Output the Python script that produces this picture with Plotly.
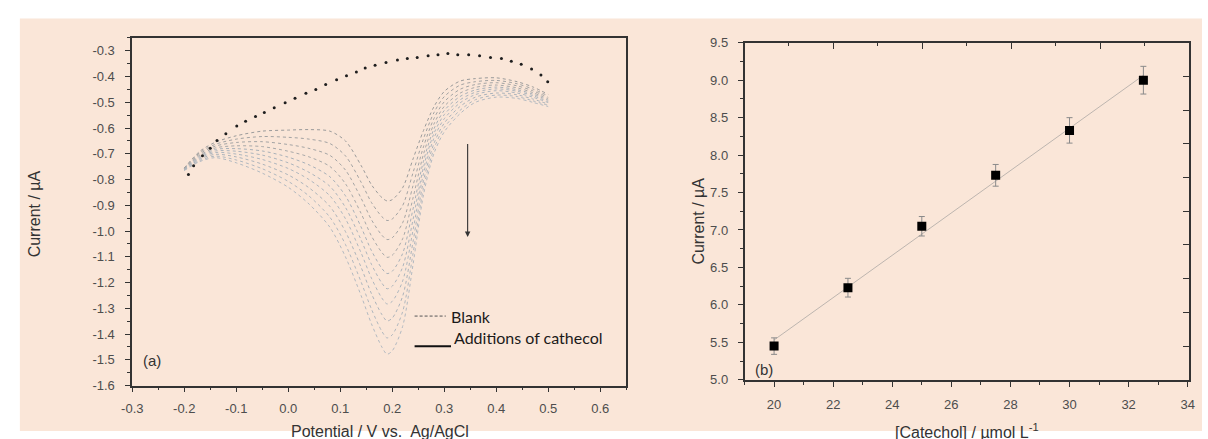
import numpy as np
import plotly.graph_objects as go

W, H = 1208, 439

# ---------------- Panel (a): voltammograms ----------------
potential = [-0.20, -0.17, -0.14, -0.10, -0.05, 0.00, 0.04, 0.08, 0.11, 0.14, 0.16, 0.18, 0.19,
             0.20, 0.22, 0.24, 0.26, 0.28, 0.30, 0.33, 0.36, 0.40, 0.44, 0.47, 0.50]

add_1 = [-0.755, -0.690, -0.655, -0.630, -0.612, -0.608, -0.606, -0.612, -0.650, -0.745, -0.820, -0.870, -0.883,
         -0.878, -0.832, -0.720, -0.610, -0.518, -0.458, -0.418, -0.408, -0.405, -0.420, -0.440, -0.469]
add_2 = [-0.756, -0.695, -0.663, -0.643, -0.633, -0.636, -0.643, -0.660, -0.708, -0.810, -0.889, -0.944, -0.959,
         -0.953, -0.901, -0.773, -0.642, -0.541, -0.478, -0.434, -0.420, -0.415, -0.428, -0.448, -0.475]
add_3 = [-0.758, -0.700, -0.670, -0.656, -0.653, -0.664, -0.679, -0.706, -0.763, -0.872, -0.956, -1.016, -1.033,
         -1.026, -0.968, -0.823, -0.673, -0.564, -0.498, -0.450, -0.431, -0.424, -0.436, -0.455, -0.481]
add_4 = [-0.759, -0.705, -0.677, -0.669, -0.672, -0.690, -0.712, -0.749, -0.816, -0.931, -1.019, -1.083, -1.102,
         -1.094, -1.030, -0.871, -0.702, -0.585, -0.516, -0.465, -0.442, -0.433, -0.444, -0.462, -0.487]
add_5 = [-0.760, -0.709, -0.683, -0.680, -0.689, -0.713, -0.743, -0.789, -0.863, -0.984, -1.076, -1.145, -1.165,
         -1.156, -1.087, -0.914, -0.729, -0.604, -0.532, -0.478, -0.452, -0.441, -0.451, -0.468, -0.492]
add_6 = [-0.761, -0.713, -0.689, -0.690, -0.705, -0.735, -0.772, -0.826, -0.908, -1.034, -1.129, -1.202, -1.224,
         -1.214, -1.140, -0.955, -0.753, -0.622, -0.548, -0.491, -0.461, -0.448, -0.457, -0.474, -0.497]
add_7 = [-0.762, -0.717, -0.695, -0.701, -0.722, -0.757, -0.800, -0.863, -0.952, -1.084, -1.183, -1.260, -1.283,
         -1.273, -1.194, -0.996, -0.778, -0.640, -0.564, -0.503, -0.470, -0.455, -0.464, -0.480, -0.501]
add_8 = [-0.763, -0.721, -0.702, -0.712, -0.740, -0.782, -0.832, -0.904, -1.002, -1.140, -1.243, -1.324, -1.349,
         -1.338, -1.253, -1.041, -0.806, -0.661, -0.581, -0.517, -0.480, -0.464, -0.471, -0.487, -0.507]
add_9 = [-0.764, -0.726, -0.709, -0.724, -0.758, -0.807, -0.864, -0.946, -1.052, -1.197, -1.303, -1.389, -1.415,
         -1.403, -1.313, -1.087, -0.834, -0.681, -0.598, -0.532, -0.490, -0.472, -0.478, -0.494, -0.512]
add_10 = [-0.765, -0.730, -0.715, -0.735, -0.775, -0.830, -0.895, -0.985, -1.100, -1.250, -1.360, -1.450, -1.478,
          -1.465, -1.370, -1.130, -0.860, -0.700, -0.615, -0.545, -0.500, -0.480, -0.485, -0.500, -0.517]

blank_potential = [-0.192, -0.182, -0.165, -0.150, -0.137, -0.120, -0.099, -0.082, -0.063, -0.046, -0.027,
                   -0.006, 0.013, 0.034, 0.053, 0.072, 0.093, 0.112, 0.131, 0.148, 0.167, 0.188, 0.210,
                   0.229, 0.248, 0.269, 0.288, 0.307, 0.326, 0.347, 0.368, 0.389, 0.410, 0.429, 0.448,
                   0.468, 0.486, 0.499]
blank_current = [-0.780, -0.746, -0.708, -0.678, -0.648, -0.622, -0.592, -0.574, -0.555, -0.540, -0.521,
                 -0.502, -0.484, -0.465, -0.450, -0.431, -0.412, -0.397, -0.382, -0.367, -0.356, -0.345, -0.336,
                 -0.330, -0.326, -0.319, -0.315, -0.311, -0.315, -0.315, -0.319, -0.326, -0.330, -0.341, -0.352,
                 -0.371, -0.394, -0.420]

a_xticks = [-0.3, -0.2, -0.1, 0.0, 0.1, 0.2, 0.3, 0.4, 0.5, 0.6]
a_yticks = [-1.6, -1.5, -1.4, -1.3, -1.2, -1.1, -1.0, -0.9, -0.8, -0.7, -0.6, -0.5, -0.4, -0.3]

# ---------------- Panel (b): calibration ----------------
catechol = [20, 22.5, 25, 27.5, 30, 32.5]
peak_current = [5.45, 6.23, 7.05, 7.73, 8.33, 9.00]
peak_error = [0.11, 0.125, 0.13, 0.145, 0.17, 0.185]

b_xticks = [20, 22, 24, 26, 28, 30, 32, 34]
b_yticks = [5.0, 5.5, 6.0, 6.5, 7.0, 7.5, 8.0, 8.5, 9.0, 9.5]

# ---------------- styling ----------------
BG = "#FAE6D8"
AXIS = "#333333"
TICKFONT = dict(family="Liberation Sans, Arial, sans-serif", size=13, color="#4d4d4d")
TITLEFONT = dict(family="Liberation Sans, Arial, sans-serif", size=16, color="#333333")


def px_x(p):
    return p / W


def px_y(p):
    return 1 - p / H


fig = go.Figure()

curve_colors = ["#9a9a9a", "#a2a2a2", "#a4a4a4", "#a8a8a8", "#a8b0b8",
                "#acb4bc", "#aeb6be", "#acb3ba", "#b0b7be", "#b2b9c0"]
for i, cur in enumerate([add_1, add_2, add_3, add_4, add_5, add_6, add_7, add_8, add_9, add_10]):
    fig.add_trace(go.Scatter(
        x=potential, y=cur, mode="lines", xaxis="x", yaxis="y",
        line=dict(color=curve_colors[i], width=1, dash="dot", shape="spline", smoothing=0.8),
        showlegend=False, hoverinfo="skip"))

fig.add_trace(go.Scatter(
    x=blank_potential, y=blank_current, mode="markers", xaxis="x", yaxis="y",
    marker=dict(color="#1e1e1e", size=3, symbol="circle"),
    showlegend=False, hoverinfo="skip"))

# linear fit of the calibration points
slope, intercept = np.polyfit(catechol, peak_current, 1)
fit_x = [catechol[0], catechol[-1]]
fig.add_trace(go.Scatter(
    x=fit_x, y=[slope * v + intercept for v in fit_x], mode="lines", xaxis="x2", yaxis="y2",
    line=dict(color="#bdb5af", width=1), showlegend=False, hoverinfo="skip"))

fig.add_trace(go.Scatter(
    x=catechol, y=peak_current, mode="markers", xaxis="x2", yaxis="y2",
    marker=dict(color="#000000", size=9, symbol="square"),
    error_y=dict(type="data", array=peak_error, visible=True, color="#8a8a8a", thickness=1, width=3),
    showlegend=False, hoverinfo="skip"))

# invisible trace carrying the secondary (top/right) tick frame of panel (b)
fig.add_trace(go.Scatter(x=[0], y=[0], mode="markers", xaxis="x3", yaxis="y3",
                         marker=dict(opacity=0), showlegend=False, hoverinfo="skip"))

common = dict(showgrid=False, zeroline=False, showline=True, linecolor=AXIS, linewidth=1.6,
              mirror=True, ticks="outside", ticklen=5, tickwidth=1.3, tickcolor=AXIS,
              tickfont=TICKFONT)

fig.update_layout(
    width=W, height=H, autosize=False,
    margin=dict(l=0, r=0, t=0, b=0),
    paper_bgcolor="white", plot_bgcolor="rgba(0,0,0,0)",
    showlegend=False,
    xaxis=dict(domain=[px_x(123), px_x(624)], anchor="y", range=[-0.3, 0.65],
               tickmode="array", tickvals=a_xticks, ticktext=[f"{v:.1f}" for v in a_xticks],
               ticklabelstandoff=5,
               minor=dict(tick0=-0.3, dtick=0.05, ticks="outside", ticklen=3, tickcolor=AXIS, tickwidth=1.2),
               **common),
    yaxis=dict(domain=[px_y(392), px_y(32)], anchor="x", range=[-1.6, -0.25],
               tickmode="array", tickvals=a_yticks, ticktext=[f"{v:.1f}" for v in a_yticks],
               ticklabelstandoff=8,
               minor=dict(tick0=-1.6, dtick=0.05, ticks="outside", ticklen=3, tickcolor=AXIS, tickwidth=1.2),
               **common),
    xaxis2=dict(domain=[px_x(744), px_x(1195)], anchor="y2", range=[19, 34.05],
                tickmode="array", tickvals=b_xticks, ticktext=[str(v) for v in b_xticks],
                ticklabelstandoff=7,
                minor=dict(tick0=19, dtick=1, ticks="outside", ticklen=3, tickcolor=AXIS, tickwidth=1.2),
                **common),
    yaxis2=dict(domain=[px_y(386), px_y(37)], anchor="x2", range=[5.0, 9.5],
                tickmode="array", tickvals=b_yticks, ticktext=[f"{v:.1f}" for v in b_yticks],
                ticklabelstandoff=7,
                minor=dict(tick0=5.0, dtick=0.25, ticks="outside", ticklen=3, tickcolor=AXIS, tickwidth=1.2),
                **common),
    xaxis3=dict(overlaying="x2", anchor="y3", side="top", range=[0, 10], showgrid=False, zeroline=False,
                showline=False, showticklabels=False, tickmode="linear", tick0=0, dtick=2,
                ticks="inside", ticklen=6, tickwidth=1.3, tickcolor=AXIS,
                minor=dict(tick0=0, dtick=1, ticks="inside", ticklen=3, tickcolor=AXIS, tickwidth=1.2)),
    yaxis3=dict(overlaying="y2", anchor="x3", side="right", range=[0, 10], showgrid=False, zeroline=False,
                showline=False, showticklabels=False, tickmode="linear", tick0=0, dtick=1,
                ticks="inside", ticklen=6, tickwidth=1.3, tickcolor=AXIS),
)

# peach page background
fig.add_shape(type="rect", xref="paper", yref="paper", x0=px_x(9), x1=1, y0=0, y1=px_y(12),
              fillcolor=BG, line=dict(width=0), layer="below")

# legend of panel (a), drawn in data space
fig.add_shape(type="line", xref="x", yref="y", x0=0.243, x1=0.303, y0=-1.330, y1=-1.330,
              line=dict(color="#555555", width=1, dash="3px,2px"))
fig.add_shape(type="line", xref="x", yref="y", x0=0.243, x1=0.313, y0=-1.447, y1=-1.447,
              line=dict(color="#111111", width=2))
LEGFONT = dict(family="Lato, Open Sans, sans-serif", size=16, color="#1a1a1a")
fig.add_annotation(x=0.309, y=-1.330, xref="x", yref="y", text="Blank", showarrow=False,
                   xanchor="left", yanchor="middle", font=LEGFONT)
fig.add_annotation(x=0.314, y=-1.415, xref="x", yref="y", text="Additions of cathecol", showarrow=False,
                   xanchor="left", yanchor="middle", font=LEGFONT)

# arrow showing the trend with increasing catechol
fig.add_annotation(x=0.345, y=-1.023, ax=0.345, ay=-0.656, xref="x", yref="y", axref="x", ayref="y",
                   text="", showarrow=True, arrowhead=2, arrowsize=1, arrowwidth=1.1, arrowcolor="#333333")

# panel letters
PANELFONT = dict(family="Liberation Sans, Arial, sans-serif", size=15, color="#333333")
fig.add_annotation(x=-0.283, y=-1.503, xref="x", yref="y", text="(a)", showarrow=False,
                   xanchor="left", yanchor="middle", font=PANELFONT)
fig.add_annotation(x=19.3, y=5.14, xref="x2", yref="y2", text="(b)", showarrow=False,
                   xanchor="left", yanchor="middle", font=PANELFONT)

# axis titles
fig.add_annotation(x=px_x(24), y=px_y(214), xref="paper", yref="paper", text="Current / µA",
                   showarrow=False, textangle=-90, xanchor="center", yanchor="middle", font=TITLEFONT)
fig.add_annotation(x=px_x(697), y=px_y(222), xref="paper", yref="paper", text="Current / µA",
                   showarrow=False, textangle=-90, xanchor="center", yanchor="middle", font=TITLEFONT)
fig.add_annotation(x=px_x(374), y=px_y(429), xref="paper", yref="paper", text="Potential / V vs.  Ag/AgCl",
                   showarrow=False, xanchor="center", yanchor="top", font=TITLEFONT)
fig.add_annotation(x=px_x(970), y=px_y(427), xref="paper", yref="paper",
                   text="[Catechol] / µmol L<sup>-1</sup>",
                   showarrow=False, xanchor="center", yanchor="top", font=TITLEFONT)

fig.write_html("out.html")
